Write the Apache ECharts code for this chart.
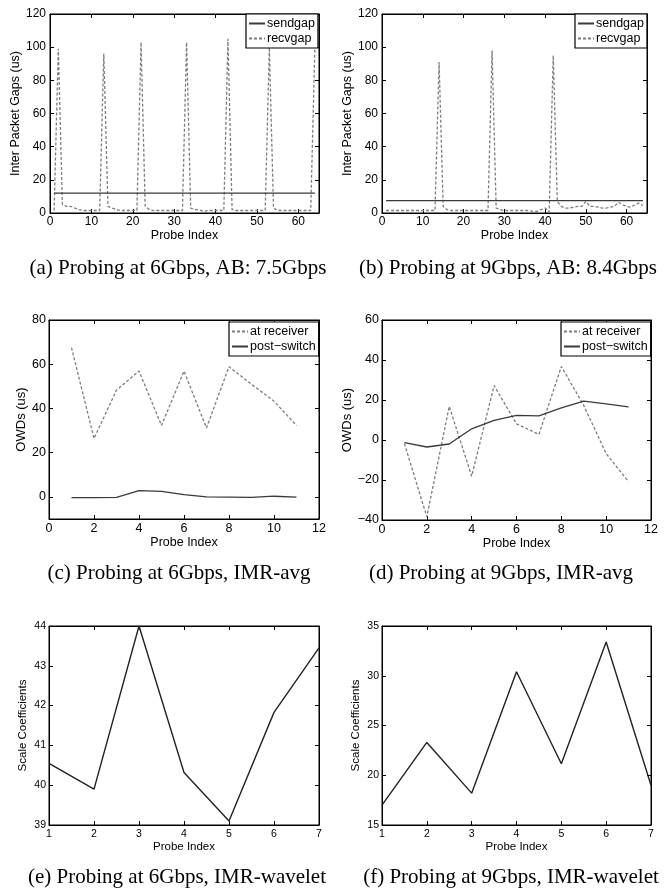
<!DOCTYPE html>
<html><head><meta charset="utf-8">
<script src="https://cdn.jsdelivr.net/npm/echarts@6/dist/echarts.min.js"></script>
<style>html,body{margin:0;padding:0;background:#fff}#c{width:668px;height:888px}</style>
</head><body><div id="c"></div><script>
// ---------- DATA ----------
const probeIndex64 = [1,2,3,4,5,6,7,8,9,10,11,12,13,14,15,16,17,18,19,20,21,22,23,24,25,26,27,28,29,30,31,32,33,34,35,36,37,38,39,40,41,42,43,44,45,46,47,48,49,50,51,52,53,54,55,56,57,58,59,60,61,62,63,64];
const sendgapA = 12;
const recvgapA = [1.5,99,5,4,4,3,2,1.5,1.5,1.5,1.5,1.5,96,4,3,2,1.5,1.5,1.5,1.5,1.5,103,4,2,1.5,1.5,1.5,1.5,1.5,1.5,1.5,1.5,103,3,2,2,1,1.5,1.5,1.5,1.5,1.5,105,2,1.5,1.5,1.5,1.5,1.5,1.5,1.5,1.5,100,3,1.5,1.5,1.5,1.5,1.5,1.5,1.5,1.5,1.5,100];
const sendgapB = 7.5;
const recvgapB = [1.5,1.5,1.5,1.5,1.5,1.5,1.5,1.5,1.5,1.5,1.5,1.5,1.5,91,4,2,1.5,1.5,1.5,1.5,1.5,1.5,1.5,1.5,1.5,1.5,98,3,2,1.5,1.5,1.5,1.5,1.5,1.5,1.5,1,1,2,3,0.5,95,7,4,3,3,3.5,4,4,7,4,4,3.5,3,3,3.5,4,6.5,5,4,3.5,5,6,4.5];
const probeIndex11 = [1,2,3,4,5,6,7,8,9,10,11];
const atReceiverC = [67.5,26.4,48.3,56.9,32.3,56.9,31.2,58.9,50.9,43.3,32.3];
const postSwitchC = [-0.3,-0.3,-0.2,2.8,2.5,1.0,0,-0.1,-0.2,0.3,-0.1];
const atReceiverD = [-1.8,-38.4,16.8,-18.1,27.2,8.1,2.8,36.7,17.3,-6.8,-20.9];
const postSwitchD = [-1.3,-3.5,-2,5.6,9.8,12.3,12.1,16.1,19.4,18.1,16.6];
const probeIndex7 = [1,2,3,4,5,6,7];
const scaleCoefE = [40.55,39.9,44.0,40.32,39.1,41.83,43.45];
const scaleCoefF = [17.0,23.3,18.2,30.4,21.15,33.4,19.0];
const captions = [
  '(a) Probing at 6Gbps, AB: 7.5Gbps',
  '(b) Probing at 9Gbps, AB: 8.4Gbps',
  '(c) Probing at 6Gbps, IMR-avg',
  '(d) Probing at 9Gbps, IMR-avg',
  '(e) Probing at 6Gbps, IMR-wavelet',
  '(f) Probing at 9Gbps, IMR-wavelet'
];
const xName = 'Probe Index';
const yNames = ['Inter Packet Gaps (us)','Inter Packet Gaps (us)','OWDs (us)','OWDs (us)','Scale Coefficients','Scale Coefficients'];

// ---------- LAYOUT ----------
const SANS = 'Liberation Sans, Arial, Helvetica, sans-serif';
const SERIF = 'Liberation Serif, Times New Roman, serif';
const boxes = [
  {left:50, top:14, width:269, height:199},
  {left:382, top:14, width:265, height:199},
  {left:49, top:320, width:270, height:199},
  {left:382, top:320, width:269, height:200},
  {left:49, top:626, width:270, height:199},
  {left:382, top:626, width:269, height:199}
];
const xCfg = [
  {min:0,max:65,interval:10,hideMax:true,fs:12,margin:3,nameGap:14,nameFs:12.5},
  {min:0,max:65,interval:10,hideMax:true,fs:12,margin:3,nameGap:14,nameFs:12.5},
  {min:0,max:12,interval:2,fs:12.5,margin:3,nameGap:15,nameFs:12.5},
  {min:0,max:12,interval:2,fs:12.5,margin:3,nameGap:15,nameFs:12.5},
  {min:1,max:7,interval:1,fs:10.5,margin:4,nameGap:11,nameFs:11.5},
  {min:1,max:7,interval:1,fs:10.5,margin:4,nameGap:11,nameFs:11.5}
];
const yCfg = [
  {min:0,max:120,interval:20,fs:12,margin:4,nameGap:26,nameFs:12.5},
  {min:0,max:120,interval:20,fs:12,margin:4,nameGap:26,nameFs:12.5},
  {min:-10,max:80,hideMin:true,fs:12.5,margin:3,nameGap:17,nameFs:13},
  {min:-40,max:60,interval:20,fs:12.5,margin:3,nameGap:25,nameFs:13},
  {min:39,max:44,interval:1,fs:10.5,margin:3,nameGap:20,nameFs:11.5},
  {min:15,max:35,interval:5,fs:10.5,margin:3,nameGap:20,nameFs:11.5}
];
const fmt = v => String(v).replace('-', '\u2212');

const grid = [], xAxis = [], yAxis = [];
boxes.forEach((b, i) => {
  grid.push(Object.assign({show:true, borderColor:'#000', borderWidth:1, backgroundColor:'#fff'}, b));
  const common = {
    gridIndex:i, type:'value', splitLine:{show:false},
    axisLine:{show:true, onZero:false, lineStyle:{color:'#000', width:1}},
    axisTick:{show:true, inside:true, length:4, lineStyle:{color:'#000', width:1}}
  };
  const xc = xCfg[i], yc = yCfg[i];
  const xs = {min:xc.min, max:xc.max}; if (xc.interval) xs.interval = xc.interval;
  const ys = {min:yc.min, max:yc.max}; if (yc.interval) ys.interval = yc.interval; else ys.splitNumber = 5;
  xAxis.push(Object.assign({}, common, xs, {
    position:'bottom', name:xName, nameLocation:'middle', nameGap:xc.nameGap,
    nameTextStyle:{color:'#000', fontFamily:SANS, fontSize:xc.nameFs},
    axisLabel:{color:'#000', fontFamily:SANS, fontSize:xc.fs, margin:xc.margin, formatter:fmt, showMaxLabel: xc.hideMax ? false : true}
  }));
  xAxis.push(Object.assign({}, common, xs, {position:'top', axisLabel:{show:false}}));
  yAxis.push(Object.assign({}, common, ys, {
    position:'left', name:yNames[i], nameLocation:'middle', nameGap:yc.nameGap,
    nameTextStyle:{color:'#000', fontFamily:SANS, fontSize:yc.nameFs},
    axisLabel:{color:'#000', fontFamily:SANS, fontSize:yc.fs, margin:yc.margin, formatter:fmt, showMinLabel: yc.hideMin ? false : true}
  }));
  yAxis.push(Object.assign({}, common, ys, {position:'right', axisLabel:{show:false}}));
});

const solidDark = {color:'#3a3a3a', width:1.3, type:'solid'};
const dashedGray = {color:'#7d7d7d', width:1.3, type:[3,2]};
function pairs(xs, ys) { return xs.map((x, k) => [x, ys[k]]); }
function mk(name, gi, data, ls, z) {
  return {name, type:'line', xAxisIndex:2*gi, yAxisIndex:2*gi, data, symbol:'none',
    lineStyle:ls, itemStyle:{color:ls.color}, z:z||2, animation:false, clip:true};
}
const first = probeIndex64[0], last = probeIndex64[probeIndex64.length-1];
const series = [
  mk('sendgap', 0, [[first, sendgapA],[last, sendgapA]], solidDark, 3),
  mk('recvgap', 0, pairs(probeIndex64, recvgapA), dashedGray),
  mk('sendgap', 1, [[first, sendgapB],[last, sendgapB]], solidDark, 3),
  mk('recvgap', 1, pairs(probeIndex64, recvgapB), dashedGray),
  mk('at receiver', 2, pairs(probeIndex11, atReceiverC), dashedGray),
  mk('post\u2212switch', 2, pairs(probeIndex11, postSwitchC), solidDark, 3),
  mk('at receiver', 3, pairs(probeIndex11, atReceiverD), dashedGray),
  mk('post\u2212switch', 3, pairs(probeIndex11, postSwitchD), solidDark, 3),
  mk('coefE', 4, pairs(probeIndex7, scaleCoefE), {color:'#222', width:1.4, type:'solid'}),
  mk('coefF', 5, pairs(probeIndex7, scaleCoefF), {color:'#222', width:1.4, type:'solid'})
];

function lg(left, top, names, fs) {
  return {show:true, orient:'vertical', left, top, data:names, selectedMode:false,
    backgroundColor:'#fff', borderColor:'#000', borderWidth:1.2, borderRadius:0,
    padding:[3,3,3,2], itemGap:2, itemWidth:16, itemHeight:13,
    itemStyle:{color:'rgba(0,0,0,0)', borderColor:'rgba(0,0,0,0)', borderWidth:0, opacity:0},
    textStyle:{color:'#000', fontFamily:SANS, fontSize:fs, padding:[0,0,0,-3]}};
}
const legend = [
  lg(246, 14, ['sendgap','recvgap'], 12.5),
  lg(575, 14, ['sendgap','recvgap'], 12.5),
  lg(229, 322, ['at receiver','post\u2212switch'], 12.5),
  lg(561, 322, ['at receiver','post\u2212switch'], 12.5)
];

const capPos = [[178,268],[508,268],[179,573],[501,573],[177,877],[511,877]];
const graphic = captions.map((t, i) => ({
  type:'text', x:capPos[i][0], y:capPos[i][1],
  style:{text:t, fill:'#000', font:'21px ' + SERIF, textAlign:'center', textVerticalAlign:'middle'}
}));

const chart = echarts.init(document.getElementById('c'), null, {renderer:'canvas'});
chart.setOption({animation:false, backgroundColor:'#fff', grid, xAxis, yAxis, series, legend, graphic});
</script></body></html>
